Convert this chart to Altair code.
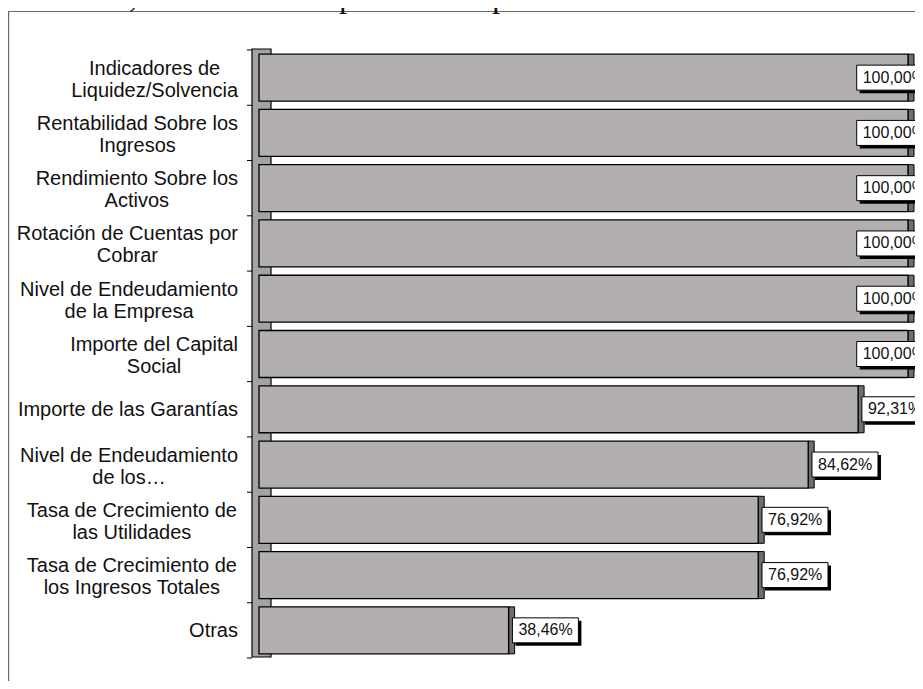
import altair as alt
import pandas as pd

# ---- data ----
categories = [
    "Indicadores de\nLiquidez/Solvencia",
    "Rentabilidad Sobre los\nIngresos",
    "Rendimiento Sobre los\nActivos",
    "Rotación de Cuentas por\nCobrar",
    "Nivel de Endeudamiento\nde la Empresa",
    "Importe del Capital\nSocial",
    "Importe de las Garantías",
    "Nivel de Endeudamiento\nde los…",
    "Tasa de Crecimiento de\nlas Utilidades",
    "Tasa de Crecimiento de\nlos Ingresos Totales",
    "Otras",
]
values = [100.0, 100.0, 100.0, 100.0, 100.0, 100.0, 92.31, 84.62, 76.92, 76.92, 38.46]
value_labels = ["100,00%", "100,00%", "100,00%", "100,00%", "100,00%", "100,00%",
                "92,31%", "84,62%", "76,92%", "76,92%", "38,46%"]
heading = "de crédito, así como al importe de su patrimonio."

# ---- text metrics (Arial / Liberation Sans advance widths, per 1000 em) ----
W = {" ": 278, "a": 556, "b": 556, "c": 500, "d": 556, "e": 556, "f": 278, "g": 556,
     "h": 556, "i": 222, "j": 222, "k": 500, "l": 222, "m": 833, "n": 556, "o": 556,
     "p": 556, "q": 556, "r": 333, "s": 500, "t": 278, "u": 556, "v": 500, "w": 722,
     "x": 500, "y": 500, "z": 500, "A": 667, "B": 667, "C": 722, "D": 722, "E": 667,
     "F": 611, "G": 778, "H": 722, "I": 278, "J": 500, "K": 667, "L": 556, "M": 833,
     "N": 722, "O": 778, "P": 667, "Q": 778, "R": 722, "S": 667, "T": 611, "U": 722,
     "V": 667, "W": 944, "X": 667, "Y": 667, "Z": 611, "/": 278, "…": 1000, "ó": 556,
     "í": 278}
CAT_FONT = 20


def block_width(s):
    return max(sum(W.get(ch, 556) for ch in line) for line in s.split("\n")) * CAT_FONT / 1000


RIGHT_EDGE = 230  # right edge of the category label block
PPU = 6.49        # pixels per percent unit

rows = []
for c, v, lab in zip(categories, values, value_labels):
    if v < 100:
        bx = v + 3.8 / PPU
        bx2 = min(bx + 66 / PPU, (920 - 259) / PPU)
    else:
        bx = (856.7 - 259) / PPU
        bx2 = bx + 75 / PPU
    rows.append({"cat": c, "value": v, "label": lab, "bx": bx, "bx2": bx2,
                 "tx": RIGHT_EDGE - block_width(c) / 2,
                 "nlines": c.count("\n") + 1})
df = pd.DataFrame(rows)
one = pd.DataFrame({"a": [0]})

xscale = alt.Scale(domain=[0, 100], range=[251, 900], nice=False, zero=False)
yscale = alt.Scale(range=[42, 650], paddingInner=0.15, paddingOuter=0.075)


def Y(**kw):
    return alt.Y("cat:N", sort=categories, scale=yscale, axis=None, **kw)


def X(field):
    return alt.X(f"{field}:Q", scale=xscale, axis=None)


FONT = "Liberation Sans"

frame_top = alt.Chart(one).mark_rule(color="#6a6a6a", strokeWidth=1.2).encode(
    x=alt.value(0), x2=alt.value(907), y=alt.value(3.5))
frame_left = alt.Chart(one).mark_rule(color="#6a6a6a", strokeWidth=1.2).encode(
    x=alt.value(0.6), y=alt.value(3.5), y2=alt.value(673))

head = alt.Chart(one).mark_text(align="left", baseline="alphabetic", font="Liberation Serif",
                                fontSize=33, color="#111").encode(
    x=alt.value(-10), y=alt.value(-1), text=alt.value(heading))

wall = alt.Chart(one).mark_rect(fill="#a3a3a3", stroke="black", strokeWidth=1.2).encode(
    x=alt.value(244), x2=alt.value(263), y=alt.value(41), y2=alt.value(649))

ticks = alt.Chart(df).mark_rule(color="black", strokeWidth=1, yOffset=-4.15).encode(
    x=alt.value(239), x2=alt.value(244), y=Y(bandPosition=0))
tick_last = alt.Chart(df.tail(1)).mark_rule(color="black", strokeWidth=1, yOffset=4.15).encode(
    x=alt.value(239), x2=alt.value(244), y=Y(bandPosition=1))

sliver = alt.Chart(df).mark_bar(fill="#6e6e6e", stroke="black", strokeWidth=1,
                                x2Offset=6).encode(
    x=X("value"), x2=alt.X2("value"), y=Y())

bars = alt.Chart(df).mark_bar(fill="#b3afaf", stroke="black", strokeWidth=1.3).encode(
    x=alt.X("value:Q", scale=xscale, axis=None, stack=None), y=Y())

shadow = alt.Chart(df).mark_bar(fill="black", size=25, xOffset=3, x2Offset=3, yOffset=3).encode(
    x=X("bx"), x2=alt.X2("bx2"), y=Y())
box = alt.Chart(df).mark_bar(fill="white", stroke="black", strokeWidth=1, size=25).encode(
    x=X("bx"), x2=alt.X2("bx2"), y=Y())
vtext = alt.Chart(df).mark_text(align="left", baseline="middle", dx=6, fontSize=16,
                                font=FONT, color="#111").encode(
    x=X("bx"), y=Y(), text="label:N")

cat_base = alt.Chart(df)
cat_multi = cat_base.transform_filter("datum.nlines > 1").mark_text(
    align="center", baseline="middle", fontSize=CAT_FONT, lineHeight=22, lineBreak="\n",
    font=FONT, color="#111", dy=-9).encode(
    x=alt.X("tx:Q", scale=None, axis=None), y=Y(), text="cat:N")
cat_single = cat_base.transform_filter("datum.nlines == 1").mark_text(
    align="center", baseline="middle", fontSize=CAT_FONT, font=FONT, color="#111", dy=1).encode(
    x=alt.X("tx:Q", scale=None, axis=None), y=Y(), text="cat:N")

chart = alt.layer(
    frame_top, frame_left, head, wall, ticks, tick_last, sliver, bars,
    shadow, box, vtext, cat_multi, cat_single
).resolve_scale(x="independent").properties(
    width=907, height=673, padding=0, autosize=alt.AutoSizeParams(type="none")
).configure_view(stroke=None)

chart.save("out.html", embed_options={"renderer": "svg", "actions": False})
